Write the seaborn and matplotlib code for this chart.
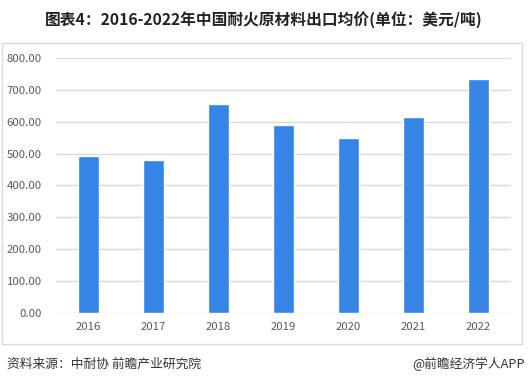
import numpy as np
import pandas as pd
import seaborn as sns
import matplotlib.pyplot as plt
from matplotlib.patches import Rectangle

# data
years = ['2016', '2017', '2018', '2019', '2020', '2021', '2022']
price = [493, 480, 656, 590, 549, 615, 734]
yticks = [0, 100, 200, 300, 400, 500, 600, 700, 800]

title = '图表4：2016-2022年中国耐火原材料出口均价(单位：美元/吨)'
source = '资料来源：中耐协 前瞻产业研究院'
brand = '@前瞻经济学人APP'

sns.set_theme(style='white')
plt.rcParams['font.family'] = ['Noto Sans CJK SC', 'DejaVu Sans']

df = pd.DataFrame({'year': years, 'price': price})

fig = plt.figure(figsize=(5.28, 3.85), dpi=100)
ax = fig.add_axes([0.1055, 0.188, 0.8625, 0.661])

#outer frame of the chart area
fig.patches.append(Rectangle((0.004, 0.106), 0.984, 0.782, transform=fig.transFigure,
                             fill=False, edgecolor='#d9d9d9', linewidth=1.0))

sns.barplot(data=df, x='year', y='price', color='#3584e6', width=0.32,
            saturation=1, ax=ax)

ax.set_ylim(0, 800)
ax.set_yticks(yticks)
ax.set_yticklabels(['{:.2f}'.format(v) for v in yticks])
ax.set_xlim(-0.5, len(years) - 0.5)
ax.yaxis.grid(True, color='#d9d9d9', linewidth=1.0)
ax.set_axisbelow(True)
for s in ax.spines.values():
    s.set_visible(False)
ax.tick_params(axis='both', length=0, labelsize=8.2, colors='#595959')
ax.tick_params(axis='y', pad=10)
ax.tick_params(axis='x', pad=7)
ax.set_xlabel('')
ax.set_ylabel('')

fig.text(0.5, 0.948, title, ha='center', va='center', fontsize=11.3,
         fontweight='bold', color='#222222')
fig.text(0.013, 0.055, source, ha='left', va='center', fontsize=9.2, color='#333333')
fig.text(0.995, 0.055, brand, ha='right', va='center', fontsize=9.2, color='#333333')

fig.savefig('out.png', dpi=100)
